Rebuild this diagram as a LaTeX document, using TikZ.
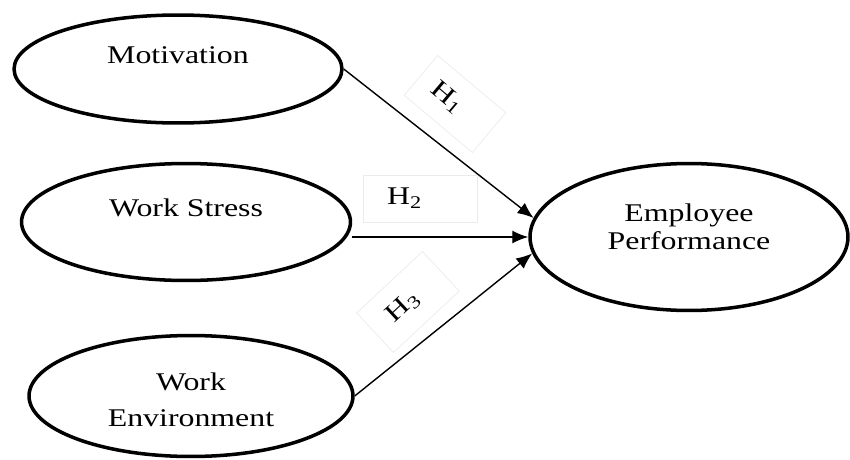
\documentclass[tikz,border=0pt]{standalone}
\usepackage{fontspec}
\setmainfont{Liberation Serif}[FakeStretch=1.25]
\usetikzlibrary{arrows.meta,shapes.geometric}

\begin{document}
\begin{tikzpicture}[x=0.02cm, y=-0.02cm, every node/.style={font=\fontsize{14.5}{16}\selectfont,align=center}, lv/.style={ellipse,draw,line width=2pt,text height=10pt}, a/.style={-{Latex[length=3.2mm,width=2.6mm]},line width=0.8pt}, hyp/.style={draw=black!8,align=left}]
\useasboundingbox (0,0) rectangle (850,460);
\node[lv,minimum width=6.56cm,minimum height=2.16cm,text depth=16.8pt] (mot) at (178,69) {Motivation};
\node[lv,minimum width=6.58cm,minimum height=2.34cm,text depth=15.7pt] (ws) at (186,222) {Work Stress};
\node[lv,minimum width=6.48cm,minimum height=2.42cm,text height=37.6pt,text depth=3pt] (we) at (191,396) {Work\\[4.4pt]Environment};
\node[lv,minimum width=6.36cm,minimum height=2.94cm,text height=17.7pt,text depth=3pt] (emp) at (689,237) {Employee\\Performance};
\draw[a] (mot.east)--(emp.173);\draw[a] (ws.east |- emp.west)--(emp.west);\draw[a] (we.east)--(emp.186);
\node[hyp,rotate=-40,text width=1.1cm,inner xsep=0.34cm,minimum height=1.04cm] (h1) at (455,104) {H\textsubscript{1}};
\node[hyp,text width=1.32cm,inner xsep=0.48cm,minimum height=0.94cm] (h2) at (420,198.5) {H\textsubscript{2}};
\node[hyp,rotate=43,text width=0.96cm,inner xsep=0.42cm,minimum height=1.08cm] (h3) at (408,302) {H\textsubscript{3}};
\end{tikzpicture}
\end{document}
